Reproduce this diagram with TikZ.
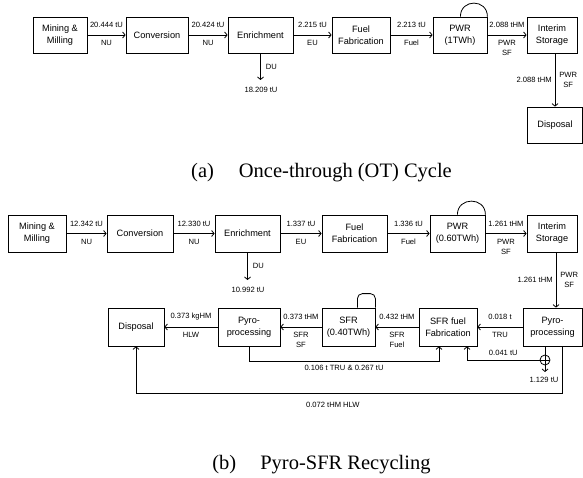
\documentclass[tikz,border=0pt]{standalone}
\usepackage{fontspec}
\setmainfont{Liberation Sans}
\newfontfamily\capfont{Liberation Serif}
\newcommand\bxfont{\fontsize{9.2}{12}\selectfont}
\newcommand\lbfont{\fontsize{7.6}{10}\selectfont}
\newcommand\cpfont{\capfont\fontsize{20.5}{24}\selectfont}
\usetikzlibrary{arrows.meta,calc}
\begin{document}
\begin{tikzpicture}[x=1pt,y=-1pt,
  box/.style={draw, line width=0.8pt, minimum height=36pt, align=center, inner sep=1pt, font=\bxfont},
  lab/.style={font=\lbfont, inner sep=0pt, align=center},
  arr/.style={line width=0.8pt, -{Straight Barb[length=2.5pt,width=6pt]}},
  ln/.style={line width=0.8pt},
  captxt/.style={font=\cpfont, inner sep=0pt}]
\useasboundingbox (0,0) rectangle (583,478);

% ---------------- (a) Once-through ----------------
\node[box, minimum width=54pt] (amm)   at (60,35)    {Mining \&\\Milling};
\node[box, minimum width=62pt] (aconv) at (157,35)   {Conversion};
\node[box, minimum width=65pt] (aenr)  at (260.5,35) {Enrichment};
\node[box, minimum width=58pt] (aff)   at (361,35)   {Fuel\\Fabrication};
\node[box, minimum width=54pt] (apwr)  at (460,35)   {PWR\\(1TWh)};
\node[box, minimum width=50pt] (ais)   at (552,35)   {Interim\\Storage};
\node[box, minimum width=55pt] (adisp) at (555,125)  {Disposal};

\draw[arr] (amm) -- node[lab,yshift=10pt]{20.444 tU} node[lab,yshift=-8pt]{NU} (aconv);
\draw[arr] (aconv) -- node[lab,yshift=10pt]{20.424 tU} node[lab,yshift=-8pt]{NU} (aenr);
\draw[arr] (aenr) -- node[lab,yshift=10pt]{2.215 tU} node[lab,yshift=-8pt]{EU} (aff);
\draw[arr] (aff) -- node[lab,yshift=10pt]{2.213 tU} node[lab,yshift=-8pt]{Fuel} (apwr);
\draw[arr] (apwr) -- node[lab,yshift=10pt]{2.088 tHM} node[lab,yshift=-13pt]{PWR\\SF} (ais);

\coordinate (adu) at (260.5,80);
\draw[arr] (aenr) -- node[lab,anchor=west,xshift=5pt]{DU} (adu);
\node[lab] (adul) at (261,90) {18.209 tU};

\draw[arr] (adisp.north |- ais.south) -- node[lab,anchor=east,xshift=-3pt]{2.088 tHM} node[lab,anchor=west,xshift=4pt]{PWR\\SF} (adisp.north);

\draw[ln] ([xshift=-27pt]apwr.north east) .. controls +(0,-18) and +(0,-18) .. (apwr.north east);

\node[captxt] (capa) at (321.5,173) {(a)\hspace{25pt}Once-through (OT) Cycle};

% ---------------- (b) Pyro-SFR ----------------
\node[box, minimum width=58pt, minimum height=37pt] (bmm)   at (37,233.5)    {Mining \&\\Milling};
\node[box, minimum width=66pt, minimum height=37pt] (bconv) at (140,233.5)   {Conversion};
\node[box, minimum width=65pt, minimum height=37pt] (benr)  at (247.5,233.5) {Enrichment};
\node[box, minimum width=65pt, minimum height=37pt] (bff)   at (354.5,233.5) {Fuel\\Fabrication};
\node[box, minimum width=55pt, minimum height=37pt] (bpwr)  at (457.5,233.5) {PWR\\(0.60TWh)};
\node[box, minimum width=50pt, minimum height=37pt] (bis)   at (552,233.5)   {Interim\\Storage};

\node[box, minimum width=56pt, minimum height=38pt] (bdisp) at (136,327)   {Disposal};
\node[box, minimum width=62pt, minimum height=38pt] (bpyL)  at (249,327)   {Pyro-\\processing};
\node[box, minimum width=53pt, minimum height=38pt] (bsfr)  at (348.5,327) {SFR\\(0.40TWh)};
\node[box, minimum width=58pt, minimum height=38pt] (bsff)  at (448,327)   {SFR fuel\\Fabrication};
\node[box, minimum width=59pt, minimum height=38pt] (bpyR)  at (552.5,327) {Pyro-\\processing};

\draw[arr] (bmm) -- node[lab,yshift=10pt]{12.342 tU} node[lab,yshift=-8pt]{NU} (bconv);
\draw[arr] (bconv) -- node[lab,yshift=10pt]{12.330 tU} node[lab,yshift=-8pt]{NU} (benr);
\draw[arr] (benr) -- node[lab,yshift=10pt]{1.337 tU} node[lab,yshift=-8pt]{EU} (bff);
\draw[arr] (bff) -- node[lab,yshift=10pt]{1.336 tU} node[lab,yshift=-8pt]{Fuel} (bpwr);
\draw[arr] (bpwr) -- node[lab,yshift=10pt]{1.261 tHM} node[lab,yshift=-13pt]{PWR\\SF} (bis);

\coordinate (bdu) at (247.5,280);
\draw[arr] (benr) -- node[lab,anchor=west,xshift=5pt]{DU} (bdu);
\node[lab] (bdul) at (248,290) {10.992 tU};

\draw[arr] ([xshift=4pt]bis.south) -- node[lab,anchor=east,xshift=-3pt]{1.261 tHM} node[lab,anchor=west,xshift=4pt]{PWR\\SF} ([xshift=3.5pt]bpyR.north);

\draw[ln] ([xshift=-28pt]bpwr.north east) .. controls +(0,-18) and +(0,-18) .. (bpwr.north east);
\draw[ln, rounded corners=5pt] ([xshift=-18pt]bsfr.north east) -- ++(0,-14) -| (bsfr.north east);

\draw[arr] (bpyR) -- node[lab,yshift=10pt]{0.018 t} node[lab,yshift=-8pt]{TRU} (bsff);
\draw[arr] (bsff) -- node[lab,yshift=10pt]{0.432 tHM} node[lab,yshift=-13pt]{SFR\\Fuel} (bsfr);
\draw[arr] (bsfr) -- node[lab,yshift=10pt]{0.373 tHM} node[lab,yshift=-13pt]{SFR\\SF} (bpyL);
\draw[arr] (bpyL) -- node[lab,yshift=10pt]{0.373 kgHM} node[lab,yshift=-8pt]{HLW} (bdisp);

\draw[arr] (bpyL.south) -- ++(0,15) -| node[lab,pos=0.25,yshift=-6pt]{0.106 t TRU \& 0.267 tU} ([xshift=-9pt]bsff.south);

\node[draw, circle, minimum size=10pt, inner sep=0pt, line width=0.8pt,
  path picture={\draw[ln] (path picture bounding box.north) -- (path picture bounding box.south)
                (path picture bounding box.west) -- (path picture bounding box.east);}] (mix) at (545,360) {};
\draw[ln] (mix.north |- bpyR.south) -- (mix.north);
\coordinate (bu) at (545,372);
\draw[arr] (mix.south) -- (bu);
\node[lab] (bul) at (544,379.5) {1.129 tU};
\draw[arr] (mix.west) -| node[lab,pos=0.25,yshift=7pt]{0.041 tU} ([xshift=19pt]bsff.south);

\draw[arr] ([xshift=9.5pt]bpyR.south) -- ++(0,47) -| node[lab,pos=0.269,yshift=-11pt]{0.072 tHM HLW} (bdisp.south);

\node[captxt] (capb) at (321.5,465) {(b)\hspace{24pt}Pyro-SFR Recycling};
\end{tikzpicture}
\end{document}
